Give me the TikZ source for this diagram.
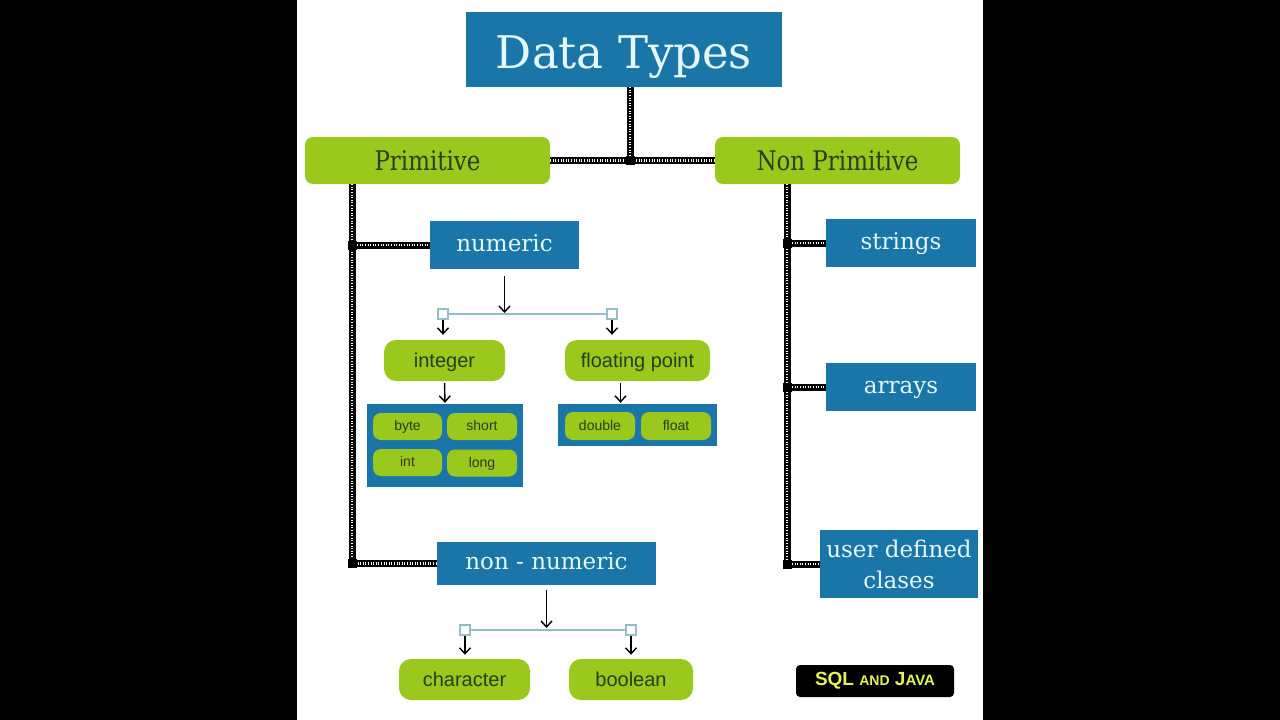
\documentclass[tikz,border=0pt]{standalone}
\usepackage{fontspec}
\usetikzlibrary{arrows.meta,positioning}
\newfontfamily\dtslab{DejaVu Serif}
\newfontfamily\dtcond[FakeStretch=0.85]{DejaVu Serif}
\newfontfamily\dtsans{Liberation Sans}
\definecolor{dtblue}{RGB}{26,118,168}
\definecolor{dtgreen}{RGB}{154,200,28}
\definecolor{dtlight}{RGB}{230,247,250}
\definecolor{dtdark}{RGB}{48,58,30}
\definecolor{dtlink}{RGB}{150,190,200}
\definecolor{dtyellow}{RGB}{226,244,80}

\begin{document}
\begin{tikzpicture}[
                x=1pt, y=-1pt,
                bluebox/.style={fill=dtblue, text=dtlight, inner sep=0pt, text height=16.6pt, text depth=4.6pt,
                                font=\dtslab\fontsize{23}{31}\selectfont},
                greenbox/.style={fill=dtgreen, text=dtdark, inner sep=0pt, text height=17pt, text depth=3.6pt,
                                 rounded corners=12pt, font=\dtsans\fontsize{20}{24}\selectfont},
                topbox/.style={greenbox, rounded corners=8pt, minimum width=245pt, minimum height=47pt,
                               text height=19.7pt, text depth=0pt, font=\dtcond\fontsize{27}{30}\selectfont},
                chip/.style={greenbox, rounded corners=8pt, text height=11.5pt, text depth=2.8pt,
                             font=\dtsans\fontsize{14}{16}\selectfont},
                rail/.style={line width=7pt, black,
                             postaction={draw=white, line width=2.8pt, dash pattern=on 1pt off 1.6pt}},
                arr/.style={black, line width=1.4pt, -{Straight Barb[length=6pt,width=11pt]}},
                link/.style={dtlink, line width=1.2pt},
                sq/.style={draw=dtlink, fill=white, line width=1.2pt, minimum size=10pt, inner sep=0pt}
            ]
            \useasboundingbox (0,0) rectangle (1280,720);
            \fill[black] (0,0) rectangle (1280,720);
            \fill[white] (297,0) rectangle (983,720);

            % top level
            \node[bluebox, minimum width=316pt, minimum height=75pt, text height=37pt, text depth=0pt,
                  font=\dtslab\fontsize{45}{50}\selectfont] (title) at (624,49.5) {Data Types};
            \node[topbox] (prim) at (427.5,160.5) {Primitive};
            \node[topbox] (nonprim) at (837.5,160.5) {Non Primitive};

            % primitive side
            \node[bluebox, minimum width=149pt, minimum height=48pt] (numeric) at (504.5,245) {numeric};
            \node[sq] (sq1) at (443,314) {};
            \node[sq] (sq2) at (612,314) {};
            \node[greenbox, minimum width=121pt, minimum height=41pt] (integer) at (444.5,360.5) {integer};
            \node[greenbox, minimum width=145pt, minimum height=41pt] (floatpt) at (637.5,360.5) {floating point};
            \node[fill=dtblue, minimum width=156pt, minimum height=83pt] (intgrp) at (445,445.5) {};
            \node[chip, minimum width=69pt, minimum height=27pt] (byte) at (407.5,426.5) {byte};
            \node[chip, minimum width=70pt, minimum height=27pt] (short) at (482,426.5) {short};
            \node[chip, minimum width=69pt, minimum height=27pt] (int) at (407.5,462.5) {int};
            \node[chip, minimum width=70pt, minimum height=27pt] (long) at (482,463) {long};
            \node[fill=dtblue, minimum width=159pt, minimum height=42pt] (fltgrp) at (637.5,425) {};
            \node[chip, minimum width=70pt, minimum height=28pt] (double) at (600,426) {double};
            \node[chip, minimum width=70pt, minimum height=28pt] (float) at (676,426) {float};

            \node[bluebox, minimum width=219pt, minimum height=43pt] (nonnum) at (546.5,563.5) {non - numeric};
            \node[sq] (sq3) at (465,630) {};
            \node[sq] (sq4) at (631,630) {};
            \node[greenbox, minimum width=131pt, minimum height=41pt] (character) at (464.5,679.5) {character};
            \node[greenbox, minimum width=124pt, minimum height=41pt] (boolean) at (631,679.5) {boolean};

            % non primitive side
            \node[bluebox, minimum width=150pt, minimum height=48pt] (strings) at (901,243) {strings};
            \node[bluebox, minimum width=150pt, minimum height=48pt] (arrays) at (901,387) {arrays};
            \node[bluebox, minimum width=158pt, minimum height=68pt, align=center,
                  text height=, text depth=] (userdef) at (899,564) {user defined\\clases};

            \node[fill=black, rounded corners=4pt, minimum width=158pt, minimum height=32pt, text=dtyellow,
                  font=\dtsans\bfseries\fontsize{19}{20}\selectfont] (badge) at (875,681)
                  {SQL {\fontsize{14}{16}\selectfont AND} J{\fontsize{15}{16}\selectfont AVA}};

            % rails
            \coordinate (jt) at (630,160);
            \coordinate (lrail) at (352,0);
            \coordinate (rrail) at (787,0);
            \draw[rail] (title.south -| jt) -- (jt);
            \draw[rail] (prim.east) -- (nonprim.west);
            \draw[rail] (prim.south -| lrail) -- (lrail |- nonnum.west) -- (nonnum.west);
            \draw[rail] (lrail |- numeric.west) -- (numeric.west);
            \draw[rail] (nonprim.south -| rrail) -- (rrail |- userdef.west) -- (userdef.west);
            \draw[rail] (rrail |- strings.west) -- (strings.west);
            \draw[rail] (rrail |- arrays.west) -- (arrays.west);
            \foreach \j in {jt, lrail |- numeric.west, lrail |- nonnum.west, rrail |- strings.west,
                            rrail |- arrays.west, rrail |- userdef.west}
              \fill[black] (\j) +(-4.5,-4.5) rectangle +(4.5,4.5);

            % arrows
            \draw[link] (sq1) -- (sq2);
            \draw[link] (sq3) -- (sq4);
            \draw[arr, shorten <=7pt, shorten >=1pt] (numeric.south) -- (numeric.south |- sq1);
            \draw[arr, shorten >=5pt] (sq1.south) -- (sq1.south |- integer.north);
            \draw[arr, shorten >=5pt] (sq2.south) -- (sq2.south |- floatpt.north);
            \draw[arr, shorten <=2pt, shorten >=1pt] (integer.south) -- (intgrp.north);
            \draw[arr, shorten <=2pt, shorten >=1pt] ([xshift=-17pt]floatpt.south) -- ([xshift=-17pt]floatpt.south |- fltgrp.north);
            \draw[arr, shorten <=5pt, shorten >=2pt] (nonnum.south) -- (nonnum.south |- sq3);
            \draw[arr, shorten >=4pt] (sq3.south) -- (sq3.south |- character.north);
            \draw[arr, shorten >=4pt] (sq4.south) -- (sq4.south |- boolean.north);
            \end{tikzpicture}
\end{document}
